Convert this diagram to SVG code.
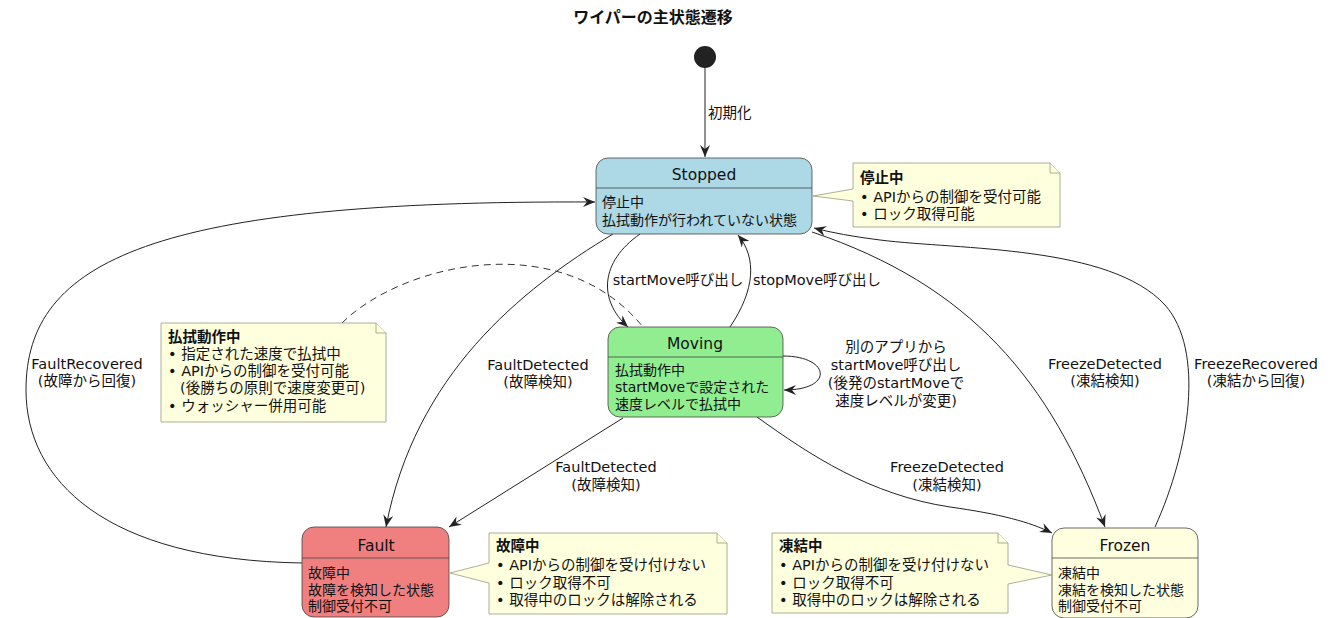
<svg xmlns="http://www.w3.org/2000/svg" width="1332" height="618" viewBox="0 0 1332 618">
<style>
text{font-family:"DejaVu Sans","Noto Sans CJK JP",sans-serif;fill:#111;}
.t{font-size:16px;font-weight:bold;}
.n{font-size:15.5px;text-anchor:middle;}
.b{font-size:14px;}
.nt{font-size:14.5px;}
.l{font-size:14.5px;text-anchor:middle;}
.nb{font-size:14.5px;font-weight:bold;}
.st{stroke:#444;stroke-width:0.8;}
.note{fill:#FEFFDD;stroke:#9a9a80;stroke-width:0.8;}
.e{fill:none;stroke:#222;stroke-width:1;}
</style>
<defs>
<marker id="ah" viewBox="0 0 12 10" markerWidth="12" markerHeight="10" refX="12" refY="5" orient="auto" markerUnits="userSpaceOnUse">
<path d="M0,0 L12,5 L0,10 L4,5 Z" fill="#222"/>
</marker>
</defs>
<text class="t" x="653" y="23" text-anchor="middle">ワイパーの主状態遷移</text>
<g id="connectors">
<path class="e" d="M705,68 L705,157" marker-end="url(#ah)"/>
<path class="e" d="M640,234 C600,262 598,300 628,327" marker-end="url(#ah)"/>
<path class="e" d="M730,327 C755,290 757,258 738,235" marker-end="url(#ah)"/>
<path class="e" d="M613,234 C520,290 415,375 386,527" marker-end="url(#ah)"/>
<path class="e" d="M623,418 L449,527" marker-end="url(#ah)"/>
<path class="e" d="M757,417 C810,455 870,495 950,507 C1000,514 1030,522 1052,533" marker-end="url(#ah)"/>
<path class="e" d="M812,232 C970,285 1050,380 1105,527" marker-end="url(#ah)"/>
<path class="e" d="M1155,527 C1190,450 1205,350 1165,305 C1110,245 960,250 880,240 Q840,235 814,228" marker-end="url(#ah)"/>
<path class="e" d="M302,563 C105,560 26,480 26,390 C26,260 155,200 595,202" marker-end="url(#ah)"/>
<path class="e" d="M783,356 C830,356 835,390 784,390" marker-end="url(#ah)"/>
<path d="M342,323 C400,265 560,225 643,327" fill="none" stroke="#333" stroke-width="1" stroke-dasharray="7,5"/>
<text class="nt" x="708" y="118">初期化</text>
<text class="l" x="678" y="285">startMove呼び出し</text>
<text class="l" x="817" y="285">stopMove呼び出し</text>
<text class="l" x="538" y="370">FaultDetected</text>
<text class="l" x="538" y="387">(故障検知)</text>
<text class="l" x="87" y="369">FaultRecovered</text>
<text class="l" x="87" y="386">(故障から回復)</text>
<text class="l" x="606" y="472">FaultDetected</text>
<text class="l" x="606" y="490">(故障検知)</text>
<text class="l" x="947" y="472">FreezeDetected</text>
<text class="l" x="947" y="490">(凍結検知)</text>
<text class="l" x="1105" y="369">FreezeDetected</text>
<text class="l" x="1105" y="386">(凍結検知)</text>
<text class="l" x="1256" y="369">FreezeRecovered</text>
<text class="l" x="1256" y="386">(凍結から回復)</text>
<text class="l" x="896" y="352">別のアプリから</text>
<text class="l" x="896" y="370">startMove呼び出し</text>
<text class="l" x="896" y="388">(後発のstartMoveで</text>
<text class="l" x="896" y="406">速度レベルが変更)</text>
</g>
<g id="start">
<circle cx="705" cy="57" r="11" fill="#222"/>
</g>
<g id="Stopped">
<rect class="st" x="596" y="158" width="216" height="76" rx="12" fill="#ADD8E6"/>
<line class="st" x1="596" y1="188" x2="812" y2="188"/>
<text class="n" x="704" y="180">Stopped</text>
<text class="b" x="602" y="207">停止中</text>
<text class="b" x="602" y="225">払拭動作が行われていない状態</text>
</g>
<g id="Moving">
<rect class="st" x="608" y="327" width="175" height="90" rx="12" fill="#90EE90"/>
<line class="st" x1="608" y1="357" x2="783" y2="357"/>
<text class="n" x="695" y="349">Moving</text>
<text class="b" x="615" y="375">払拭動作中</text>
<text class="b" x="615" y="392">startMoveで設定された</text>
<text class="b" x="615" y="409">速度レベルで払拭中</text>
</g>
<g id="Fault">
<rect class="st" x="302" y="527" width="147" height="90" rx="12" fill="#F08080"/>
<line class="st" x1="302" y1="558" x2="449" y2="558"/>
<text class="n" x="376" y="551">Fault</text>
<text class="b" x="308" y="578">故障中</text>
<text class="b" x="308" y="595">故障を検知した状態</text>
<text class="b" x="308" y="611">制御受付不可</text>
</g>
<g id="Frozen">
<rect class="st" x="1052" y="528" width="146" height="90" rx="12" fill="#FFFFE0"/>
<line class="st" x1="1052" y1="558" x2="1198" y2="558"/>
<text class="n" x="1125" y="551">Frozen</text>
<text class="b" x="1058" y="578">凍結中</text>
<text class="b" x="1058" y="595">凍結を検知した状態</text>
<text class="b" x="1058" y="611">制御受付不可</text>
</g>
<g id="note-stopped">
<path class="note" d="M853,163 L1050,163 L1060,173 L1060,227 L853,227 L853,201 L813,196 L853,189 Z"/>
<path class="note" d="M1050,163 L1050,173 L1060,173" fill="none"/>
<text class="nb" x="860" y="183">停止中</text>
<text class="nt" x="860" y="202">• APIからの制御を受付可能</text>
<text class="nt" x="860" y="219">• ロック取得可能</text>
</g>
<g id="note-moving">
<path class="note" d="M161,323 L376,323 L386,333 L386,422 L161,422 Z"/>
<path class="note" d="M376,323 L376,333 L386,333" fill="none"/>
<text class="nb" x="168" y="342">払拭動作中</text>
<text class="nt" x="168" y="359">• 指定された速度で払拭中</text>
<text class="nt" x="168" y="376">• APIからの制御を受付可能</text>
<text class="nt" x="180" y="393">(後勝ちの原則で速度変更可)</text>
<text class="nt" x="168" y="411">• ウォッシャー併用可能</text>
</g>
<g id="note-fault">
<path class="note" d="M489,533 L717,533 L727,543 L727,614 L489,614 L489,583 L450,573 L489,563 Z"/>
<path class="note" d="M717,533 L717,543 L727,543" fill="none"/>
<text class="nb" x="496" y="551">故障中</text>
<text class="nt" x="496" y="570">• APIからの制御を受け付けない</text>
<text class="nt" x="496" y="588">• ロック取得不可</text>
<text class="nt" x="496" y="605">• 取得中のロックは解除される</text>
</g>
<g id="note-frozen">
<path class="note" d="M772,533 L998,533 L1008,543 L1008,565 L1052,575 L1008,584 L1008,613 L772,613 Z"/>
<path class="note" d="M998,533 L998,543 L1008,543" fill="none"/>
<text class="nb" x="779" y="551">凍結中</text>
<text class="nt" x="779" y="570">• APIからの制御を受け付けない</text>
<text class="nt" x="779" y="588">• ロック取得不可</text>
<text class="nt" x="779" y="605">• 取得中のロックは解除される</text>
</g>
</svg>
